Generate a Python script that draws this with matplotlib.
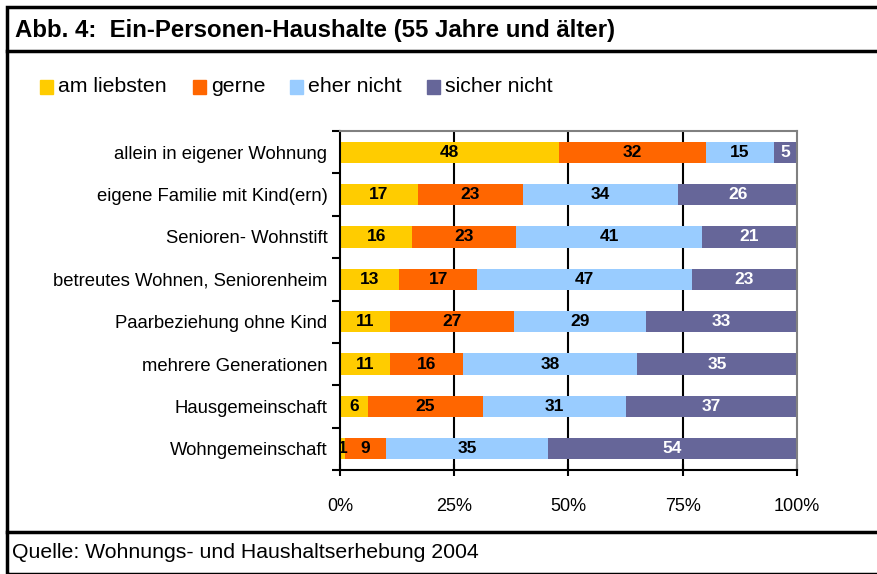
import matplotlib.pyplot as plt
import numpy as np
from matplotlib.patches import Rectangle
from matplotlib.lines import Line2D

plt.rcParams['font.family'] = ['Liberation Sans', 'DejaVu Sans']

# data (top row first)
categories = ["allein in eigener Wohnung", "eigene Familie mit Kind(ern)",
              "Senioren- Wohnstift", "betreutes Wohnen, Seniorenheim",
              "Paarbeziehung ohne Kind", "mehrere Generationen",
              "Hausgemeinschaft", "Wohngemeinschaft"]
series_names = ["am liebsten", "gerne", "eher nicht", "sicher nicht"]
am_liebsten = [48, 17, 16, 13, 11, 11, 6, 1]
gerne = [32, 23, 23, 17, 27, 16, 25, 9]
eher_nicht = [15, 34, 41, 47, 29, 38, 31, 35]
sicher_nicht = [5, 26, 21, 23, 33, 35, 37, 54]
xticks = [0, 25, 50, 75, 100]
xticklabels = ["0%", "25%", "50%", "75%", "100%"]

colors = ["#FFCC00", "#FF6600", "#99CCFF", "#666699"]
text_colors = ["black", "black", "black", "white"]
legend_x = [40, 193, 290, 427]   # pixel position of legend squares

vals = np.array([am_liebsten, gerne, eher_nicht, sicher_nicht], dtype=float)
pct = vals / vals.sum(axis=0) * 100

W, H = 878, 574
fig = plt.figure(figsize=(W/100, H/100), dpi=100)
ax = fig.add_axes([340/W, 1-470/H, (797-340)/W, (470-131)/H])

y = np.arange(len(categories))[::-1]
left = np.zeros(len(categories))
for i in range(4):
    ax.barh(y, pct[i], left=left, height=0.5, color=colors[i],
            label=series_names[i], zorder=2)
    for j in range(len(categories)):
        ax.text(left[j] + pct[i][j]/2, y[j], str(int(vals[i][j])),
                ha='center', va='center', fontsize=12.5, fontweight='bold',
                color=text_colors[i], zorder=3)
    left += pct[i]

ax.set_xlim(0, 100)
ax.set_ylim(-0.5, len(categories) - 0.5)
ax.set_xticks(xticks)
ax.set_xticklabels(xticklabels, fontsize=13)
ax.set_yticks(y)
ax.set_yticklabels(categories, fontsize=13.3)
ax.tick_params(axis='y', length=0, pad=9)
ax.tick_params(axis='x', direction='inout', length=9, width=1.5, pad=16)
ax.set_yticks(np.arange(-0.5, len(categories)), minor=True)
ax.tick_params(axis='y', which='minor', length=6, width=1.5)
for x in [25, 50, 75]:
    ax.axvline(x, color='black', lw=1.5, zorder=1)
ax.spines['left'].set_linewidth(1.5)
ax.spines['bottom'].set_linewidth(1.5)
ax.spines['top'].set_color('#808080')
ax.spines['right'].set_color('#808080')
ax.spines['top'].set_linewidth(1.5)
ax.spines['right'].set_linewidth(1.5)

# frame
fig.patches.append(Rectangle((7/W, 0), 1, 1 - 7/H, transform=fig.transFigure,
                             fill=False, edgecolor='black', lw=2.5))
for yy in [51, 532]:
    fig.lines.append(Line2D([7/W, 1], [1 - yy/H, 1 - yy/H],
                            transform=fig.transFigure, color='black', lw=2.5))

fig.text(15/W, 1 - 30/H, "Abb. 4:  Ein-Personen-Haushalte (55 Jahre und älter)",
         fontsize=17.3, fontweight='bold', va='center')
fig.text(12/W, 1 - 553/H, "Quelle: Wohnungs- und Haushaltserhebung 2004",
         fontsize=15.3, va='center')

# legend drawn by hand so the uneven spacing of the original is kept
for name, col, lx in zip(series_names, colors, legend_x):
    fig.patches.append(Rectangle((lx/W, 1 - 93.5/H), 13/W, 13/H,
                                 transform=fig.transFigure, color=col))
    fig.text((lx + 18)/W, 1 - 87/H, name, fontsize=15.3, va='center')

fig.savefig("out.png", dpi=100)
